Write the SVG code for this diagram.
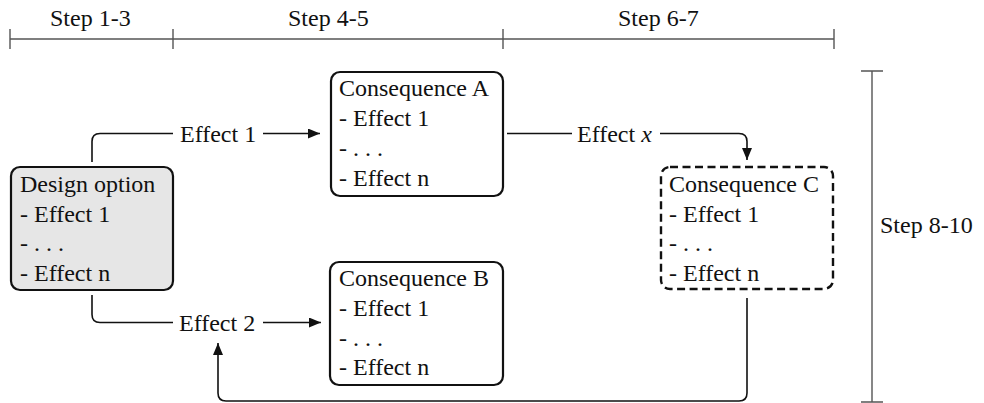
<svg xmlns="http://www.w3.org/2000/svg" width="984" height="403" viewBox="0 0 984 403">
<defs>
<style>
text{font-family:"Liberation Serif","Times New Roman",serif;font-size:24px;fill:#111}
.box{fill:#fff;stroke:#111;stroke-width:2.2}
.gray{fill:#e6e6e6}
.dash{stroke-dasharray:8 4.5;stroke-width:2.4}
.conn{fill:none;stroke:#111;stroke-width:1.6}
.scale{fill:none;stroke:#555;stroke-width:1.4}
</style>
<marker id="arr" viewBox="0 0 12 10" refX="12" refY="5" markerWidth="12" markerHeight="10" markerUnits="userSpaceOnUse" orient="auto">
<path d="M0,0 L12,5 L0,10 z" fill="#111"/>
</marker>
</defs>
<rect width="984" height="403" fill="#fff"/>

<g id="timeline">
<path class="scale" d="M10,39 H834 M10,29 V49 M173,29 V49 M503,29 V49 M834,29 V49"/>
<text x="50" y="26">Step 1-3</text>
<text x="288" y="26">Step 4-5</text>
<text x="618" y="26">Step 6-7</text>
</g>

<g id="vscale">
<path class="scale" d="M872,71 V402 M861,71 H883 M861,402 H883"/>
<text x="880" y="233">Step 8-10</text>
</g>

<g id="connectors">
<path class="conn" d="M92,162 V141.5 Q92,133.5 100,133.5 H173"/>
<path class="conn" d="M263,133.5 H320" marker-end="url(#arr)"/>
<text x="180" y="142">Effect 1</text>
<path class="conn" d="M92,295 V314.5 Q92,322.5 100,322.5 H173"/>
<path class="conn" d="M263,322.5 H321" marker-end="url(#arr)"/>
<text x="179" y="331">Effect 2</text>
<path class="conn" d="M507,133.5 H572"/>
<path class="conn" d="M660,133.5 H739 Q747,133.5 747,141.5 V160" marker-end="url(#arr)"/>
<text x="577" y="142">Effect <tspan font-style="italic">x</tspan></text>
<path class="conn" d="M747,298 V393 Q747,401 739,401 H226 Q218,401 218,393 V343" marker-end="url(#arr)"/>
</g>

<g id="design-option">
<rect class="box gray" x="11" y="167" width="162" height="123" rx="9"/>
<text x="20" y="192">Design option</text>
<text x="20" y="222">- Effect 1</text>
<text x="20" y="251">- . . .</text>
<text x="20" y="281">- Effect n</text>
</g>

<g id="consequence-a">
<rect class="box" x="331" y="72" width="172" height="124" rx="9"/>
<text x="339" y="96">Consequence A</text>
<text x="339" y="126">- Effect 1</text>
<text x="339" y="156">- . . .</text>
<text x="339" y="186">- Effect n</text>
</g>

<g id="consequence-b">
<rect class="box" x="330" y="262" width="173" height="123" rx="9"/>
<text x="339" y="286">Consequence B</text>
<text x="339" y="316">- Effect 1</text>
<text x="339" y="346">- . . .</text>
<text x="339" y="375">- Effect n</text>
</g>

<g id="consequence-c">
<rect class="box dash" x="661" y="167" width="172" height="122" rx="9"/>
<text x="669" y="192">Consequence C</text>
<text x="669" y="222">- Effect 1</text>
<text x="669" y="251">- . . .</text>
<text x="669" y="281">- Effect n</text>
</g>
</svg>
